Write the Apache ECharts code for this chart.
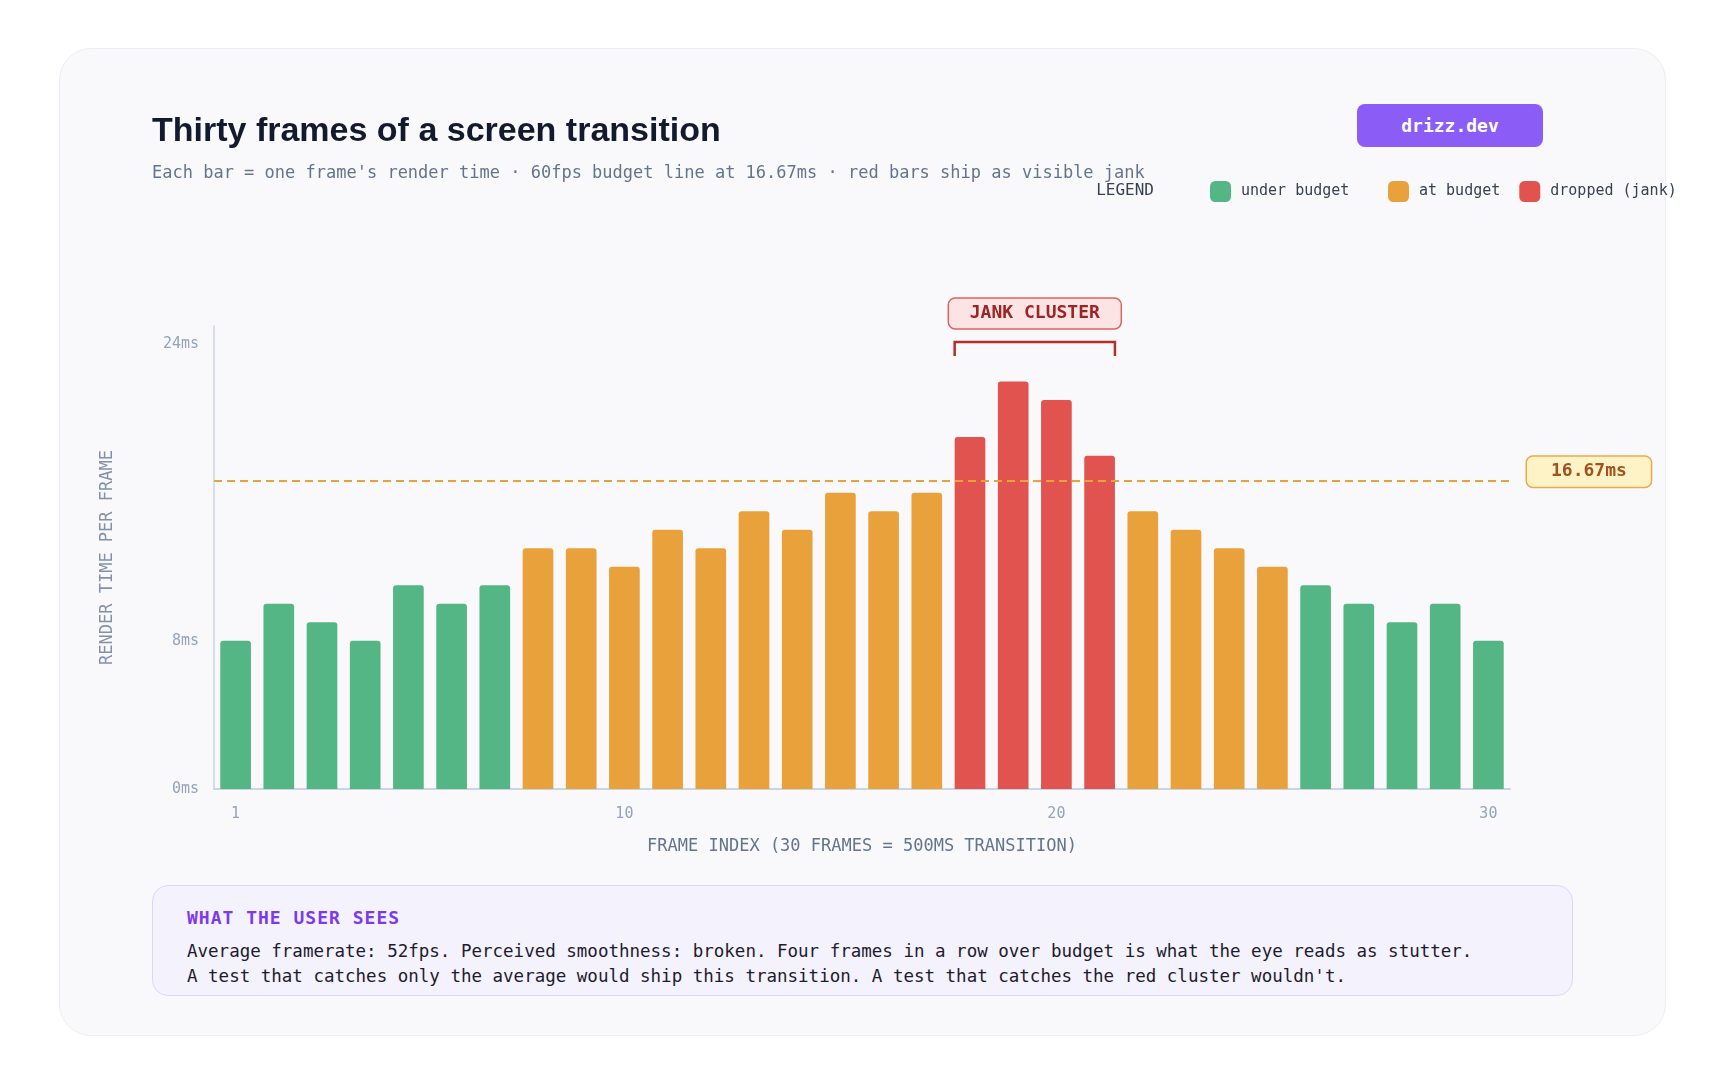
<!DOCTYPE html>
<html>
<head>
<meta charset="utf-8">
<title>Thirty frames of a screen transition</title>
<script src="https://cdn.jsdelivr.net/npm/echarts@6/dist/echarts.min.js"></script>
<style>
  html, body { margin: 0; padding: 0; background: #ffffff; }
  body { width: 1716px; height: 1086px; position: relative; overflow: hidden; }
  .card {
    position: absolute; left: 59px; top: 48px; width: 1607px; height: 988px;
    background: #f9f9fc; border: 1px solid #eceef4; border-radius: 32px; box-sizing: border-box;
  }
  #chart { position: absolute; left: 0; top: 0; width: 1716px; height: 1086px; }
  .badge {
    position: absolute; left: 1357px; top: 104px; width: 186px; height: 43px;
    background: #8b5cf6; border-radius: 8px; color: #fff;
    font: bold 18px "DejaVu Sans Mono", monospace; line-height: 43px; text-align: center;
  }
  .note {
    position: absolute; left: 152px; top: 885px; width: 1421px; height: 111px; box-sizing: border-box;
    background: #f4f2fd; border: 1.5px solid #ddd6fb; border-radius: 16px;
    padding: 22px 34px 0 34px; font-family: "DejaVu Sans Mono", monospace;
  }
  .note h3 { margin: 0 0 11px 0; font-size: 18px; line-height: 20px; color: #7c3aed; font-weight: bold; letter-spacing: 1px; }
  .note p { margin: 0; font-size: 17.5px; line-height: 25px; color: #1e1b2e; }
</style>
</head>
<body>
<div class="card"></div>
<div id="chart"></div>
<div class="badge">drizz.dev</div>
<div class="note">
  <h3>WHAT THE USER SEES</h3>
  <p>Average framerate: 52fps. Perceived smoothness: broken. Four frames in a row over budget is what the eye reads as stutter.<br>A test that catches only the average would ship this transition. A test that catches the red cluster wouldn't.</p>
</div>
<script>
// frame render times (ms)
var frames = ['1','2','3','4','5','6','7','8','9','10','11','12','13','14','15','16','17','18','19','20','21','22','23','24','25','26','27','28','29','30'];
var frameTimes = [8, 10, 9, 8, 11, 10, 11, 13, 13, 12, 14, 13, 15, 14, 16, 15, 16, 19, 22, 21, 18, 15, 14, 13, 12, 11, 10, 9, 10, 8];
var frameStatus = ['under','under','under','under','under','under','under',
                   'at','at','at','at','at','at','at','at','at','at',
                   'drop','drop','drop','drop',
                   'at','at','at','at',
                   'under','under','under','under','under'];
var budget = 16.67;
var yTicks = [0, 8, 24];
var xTicks = ['1', '10', '20', '30'];

var mono = '"DejaVu Sans Mono", monospace';
var groups = [
    { key: 'under', name: 'under budget', color: '#55b685' },
    { key: 'at', name: 'at budget', color: '#e9a23b' },
    { key: 'drop', name: 'dropped (jank)', color: '#e0534f' }
];

var chart = echarts.init(document.getElementById('chart'));

var series = groups.map(function (g, gi) {
    var s = {
        name: g.name,
        type: 'bar',
        barWidth: '71%',
        barGap: '-100%',
        itemStyle: { color: g.color, borderRadius: [3, 3, 0, 0] },
        data: frameTimes.map(function (v, i) { return frameStatus[i] === g.key ? v : '-'; })
    };
    if (gi === 1) {
        s.markLine = {
            silent: true,
            symbol: 'none',
            lineStyle: { color: '#e9a23b', type: [8, 5], width: 2.2 },
            label: {
                show: true,
                position: 'end',
                distance: 17,
                offset: [0, -8.5],
                formatter: budget + 'ms',
                fontFamily: mono,
                fontSize: 18,
                fontWeight: 'bold',
                color: '#a0521f',
                backgroundColor: '#fef3c7',
                borderColor: '#eba94b',
                borderWidth: 1.5,
                borderRadius: 6,
                padding: [6, 24, 6, 24]
            },
            data: [{ yAxis: budget }]
        };
    }
    return s;
});

// legend entries are spaced like the original: a wide first slot, then two
function legendBlock(names, left) {
    return {
        data: names,
        left: left,
        top: 176,
        itemWidth: 21,
        itemHeight: 21,
        itemGap: 19,
        icon: 'roundRect',
        textStyle: { fontFamily: mono, fontSize: 15, color: '#374151', padding: [0, 0, 0, 5] }
    };
}

var option = {
    backgroundColor: 'transparent',
    animation: false,
    title: {
        text: 'Thirty frames of a screen transition',
        subtext: "Each bar = one frame's render time · 60fps budget line at 16.67ms · red bars ship as visible jank",
        left: 147,
        top: 110,
        itemGap: 16,
        textStyle: { fontFamily: '"Liberation Sans", Arial, sans-serif', fontSize: 34, fontWeight: 'bold', color: '#141a2e', lineHeight: 34 },
        subtextStyle: { fontFamily: mono, fontSize: 17, color: '#64748b', lineHeight: 17 }
    },
    legend: [
        legendBlock([groups[0].name], 1205),
        legendBlock([groups[1].name, groups[2].name], 1383)
    ],
    grid: { left: 214, right: 206, top: 326, bottom: 297, containLabel: false },
    xAxis: {
        type: 'category',
        data: frames,
        name: 'FRAME INDEX (30 FRAMES = 500MS TRANSITION)',
        nameLocation: 'middle',
        nameGap: 49,
        nameTextStyle: { fontFamily: mono, fontSize: 17, color: '#64748b' },
        axisLine: { lineStyle: { color: '#cbd5e1', width: 2 } },
        axisTick: { show: false },
        axisLabel: {
            fontFamily: mono, fontSize: 15, color: '#94a3b8', margin: 18,
            interval: function (i, v) { return xTicks.indexOf(v) >= 0; }
        }
    },
    yAxis: {
        type: 'value',
        min: 0,
        max: 25,
        interval: 8,
        name: 'RENDER TIME PER FRAME',
        nameLocation: 'middle',
        nameGap: 98,
        nameTextStyle: { fontFamily: mono, fontSize: 17, color: '#8391a7' },
        axisLine: { show: true, lineStyle: { color: '#cbd5e1', width: 1.5 } },
        axisTick: { show: false },
        splitLine: { show: false },
        axisLabel: {
            fontFamily: mono, fontSize: 15, color: '#94a3b8', margin: 15,
            showMaxLabel: false,
            formatter: function (v) { return yTicks.indexOf(v) >= 0 ? v + 'ms' : ''; }
        }
    },
    series: series
};

chart.setOption(option);

// legend caption + jank cluster bracket, placed from the axis scale
var first = frameStatus.indexOf('drop');
var last = frameStatus.lastIndexOf('drop');
var p0 = chart.convertToPixel({ xAxisIndex: 0, yAxisIndex: 0 }, [first, 0]);
var p1 = chart.convertToPixel({ xAxisIndex: 0, yAxisIndex: 0 }, [last, 0]);
var pNext = chart.convertToPixel({ xAxisIndex: 0, yAxisIndex: 0 }, [first + 1, 0]);
var halfBar = (pNext[0] - p0[0]) * 0.71 / 2;
var bx0 = p0[0] - halfBar, bx1 = p1[0] + halfBar, bmid = (bx0 + bx1) / 2;

chart.setOption({
    graphic: [
        {
            type: 'text', x: 1154, y: 191,
            style: { text: 'LEGEND', font: '16px ' + mono, fill: '#374151', align: 'right', verticalAlign: 'middle' }
        },
        {
            type: 'polyline',
            shape: { points: [[bx0, 356], [bx0, 342], [bx1, 342], [bx1, 356]] },
            style: { stroke: '#b42d2a', lineWidth: 2.5, fill: null }
        },
        {
            type: 'rect',
            shape: { x: bmid - 86.5, y: 298, width: 173, height: 31, r: 7 },
            style: { fill: '#fce4e4', stroke: '#e06262', lineWidth: 1.5 }
        },
        {
            type: 'text', x: bmid, y: 313.5,
            style: { text: 'JANK CLUSTER', font: 'bold 18px ' + mono, fill: '#9b2525', align: 'center', verticalAlign: 'middle' }
        }
    ]
});
</script>
</body>
</html>
